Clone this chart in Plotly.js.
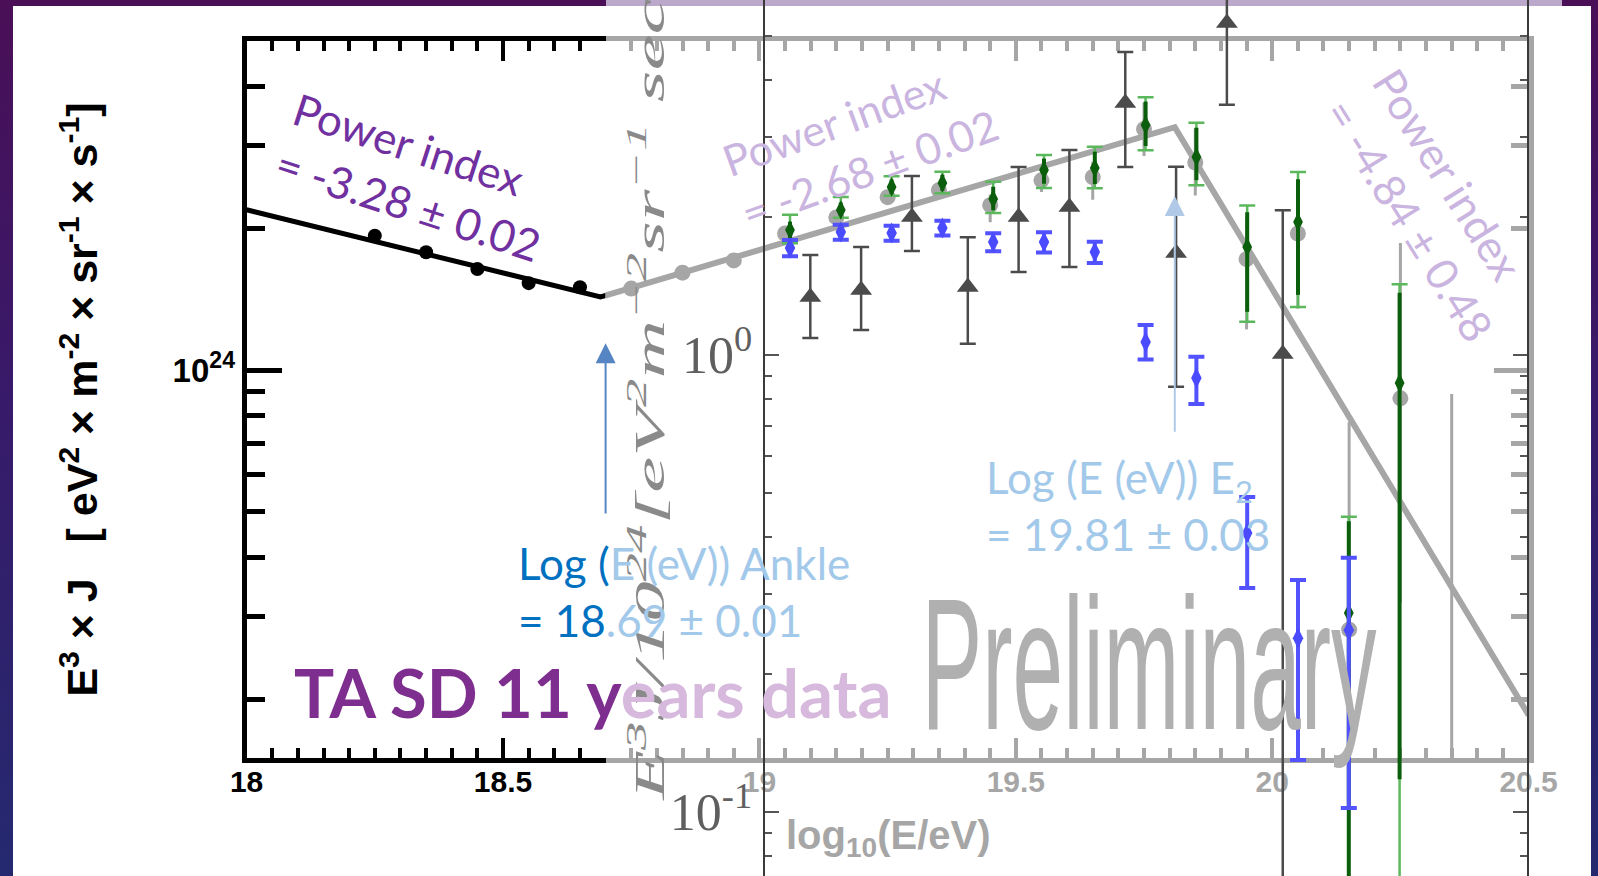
<!DOCTYPE html>
<html><head><meta charset="utf-8">
<script src="https://cdn.plot.ly/plotly-3.0.1.min.js"></script>
<style>
html,body{margin:0;padding:0;width:1598px;height:876px;overflow:hidden;
background:linear-gradient(180deg,#4a0f57 0%,#381a6a 45%,#24296f 100%);}
#chart{width:1598px;height:876px;}
</style></head><body><div id="chart"></div>
<script>
// ---------------- data ----------------
// TA SD 11-year spectrum, E^3 J in eV^2 m^-2 sr^-1 s^-1
const sdX = [18.25,18.35,18.45,18.55,18.65,18.75,18.85,18.95,19.05,19.15,19.25,19.35,19.45,19.55,19.65,19.75,19.85,19.95,20.05,20.15,20.25,20.35];
const sdY = [1.93e24,1.78e24,1.64e24,1.53e24,1.50e24,1.49e24,1.61e24,1.71e24,1.95e24,2.11e24,2.33e24,2.41e24,2.24e24,2.53e24,2.57e24,3.25e24,2.76e24,1.72e24,1.95e24,0.281e24,0.871e24,0.10e24];
const sdErrPlus  = [0.01e24,0.01e24,0.01e24,0.01e24,0.01e24,0.01e24,0.02e24,0.02e24,0.06e24,0.07e24,0.08e24,0.10e24,0.12e24,0.14e24,0.20e24,0.45e24,0.50e24,0.40e24,0.55e24,0.495e24,0.99e24,0.79e24];
const sdErrMinus = [0.01e24,0.01e24,0.01e24,0.01e24,0.01e24,0.01e24,0.02e24,0.02e24,0.06e24,0.07e24,0.08e24,0.10e24,0.18e24,0.14e24,0.27e24,0.40e24,0.41e24,0.50e24,0.60e24,0.25e24,0.55e24,0.05e24];

// broken power-law fit
const fitX = [18.0, 18.69, 19.81, 20.5];
const fitY = [2.19e24, 1.43e24, 3.28e24, 0.185e24];

// break markers (arrows): log10(E) and arrow tip/tail in log10(E^3 J)
const arrowX    = [18.70, 19.81];
const arrowTip  = [24.057, 24.370];
const arrowTail = [23.692, 23.866];

// background figure (TA, E^3 J / 10^24)
const triX = [19.09,19.19,19.29,19.40,19.50,19.60,19.71,19.81,19.91,20.02];
const triY = [1.339,1.387,2.004,1.409,2.004,2.108,3.560,1.672,5.33,1.005];
const triPlus  = [0.316,0.336,0.46,0.40,0.575,0.70,1.04,0.91,3.0,1.07];
const triMinus = [0.25,0.253,0.315,0.35,0.485,0.55,0.98,0.82,1.8,0.95];

const greenX = [19.05,19.15,19.25,19.35,19.45,19.55,19.65,19.75,19.85,19.95,20.05,20.15,20.25];
const greenY = [1.877,2.076,2.332,2.379,2.194,2.540,2.566,3.186,2.713,1.723,1.954,0.2725,0.868];
const greenOuterPlus  = [0.15,0.14,0.13,0.14,0.20,0.20,0.29,0.48,0.51,0.40,0.56,0.17,0.56];
const greenOuterMinus = [0.12,0.08,0.10,0.12,0.15,0.22,0.25,0.38,0.36,0.54,0.68,0.25,0.80];
const greenInnerPlus  = [0.08,0.08,0.09,0.10,0.14,0.15,0.22,0.40,0.43,0.33,0.47,0.16,0.50];
const greenInnerMinus = [0.08,0.06,0.08,0.09,0.12,0.17,0.20,0.32,0.30,0.48,0.60,0.24,0.75];

const blueX = [19.05,19.15,19.25,19.35,19.45,19.55,19.65,19.75,19.85,19.95,20.05,20.15];
const blueY = [1.715,1.858,1.849,1.896,1.767,1.767,1.680,1.068,0.891,0.408,0.240,0.250];
const bluePlus  = [0.07,0.07,0.07,0.07,0.08,0.09,0.09,0.095,0.10,0.081,0.082,0.11];
const blueMinus = [0.07,0.07,0.07,0.07,0.08,0.09,0.09,0.09,0.11,0.099,0.11,0.148];

const yMajorVals = [1e24];
const yMajorText = ['10<sup>24</sup>'];
const yMinorVals = [2e23,3e23,4e23,5e23,6e23,7e23,8e23,9e23,2e24,3e24,4e24];
const taMajorVals = [0.1, 1];
const taMajorText = ['10<sup>-1</sup>','10<sup>0</sup>'];
const taMinorVals = [0.08,0.09,0.2,0.3,0.4,0.5,0.6,0.7,0.8,0.9,2,3,4,5];

// ---------------- layout helpers ----------------
const W = 1598, H = 876;
const px = v => v / W;
const py = v => 1 - v / H;

const BLACK = '#000000', FADE = '#a6a6a6';
const tickFontBlack = {family:'Liberation Sans, Arial, sans-serif', size:30, color:BLACK, weight:'bold'};
const tickFontGray  = {family:'Liberation Sans, Arial, sans-serif', size:30, color:FADE, weight:'bold'};

const xLeftDom  = [px(246.6), px(605.6)];
const xRightDom = [px(605.6), px(1528.6)];
const yMainDom  = [py(758), py(41)];
const yRange    = [Math.log10(1.5e23), Math.log10(5e24)];

const data = [
  // left (original, opaque) part of the slide chart
  {x: fitX, y: fitY, xaxis:'x', yaxis:'y', mode:'lines', line:{color:BLACK, width:5}, hoverinfo:'skip', showlegend:false},
  {x: sdX, y: sdY, xaxis:'x', yaxis:'y', mode:'markers', marker:{color:BLACK, size:14},
   error_y:{type:'data', symmetric:false, array:sdErrPlus, arrayminus:sdErrMinus, color:BLACK, thickness:2, width:0}, showlegend:false},
  // right part, seen through the overlaid figure (faded)
  {x: fitX, y: fitY, xaxis:'x2', yaxis:'y2', mode:'lines', line:{color:FADE, width:6}, hoverinfo:'skip', showlegend:false},
  {x: sdX, y: sdY, xaxis:'x2', yaxis:'y2', mode:'markers', marker:{color:FADE, size:16},
   error_y:{type:'data', symmetric:false, array:sdErrPlus, arrayminus:sdErrMinus, color:FADE, thickness:3, width:0}, showlegend:false},
  // overlaid TA figure
  {x: triX, y: triY, xaxis:'x3', yaxis:'y3', mode:'markers', marker:{symbol:'triangle-up', color:'#4b4b4b', size:19},
   error_y:{type:'data', symmetric:false, array:triPlus, arrayminus:triMinus, color:'#4b4b4b', thickness:2.5, width:8}, showlegend:false},
  {x: greenX, y: greenY, xaxis:'x3', yaxis:'y3', mode:'markers', marker:{color:'rgba(0,0,0,0)', size:2},
   error_y:{type:'data', symmetric:false, array:greenOuterPlus, arrayminus:greenOuterMinus, color:'#5cb85c', thickness:2.5, width:8}, showlegend:false},
  {x: greenX, y: greenY, xaxis:'x3', yaxis:'y3', mode:'markers', marker:{symbol:'diamond-tall', color:'#0b5e0b', size:14},
   error_y:{type:'data', symmetric:false, array:greenInnerPlus, arrayminus:greenInnerMinus, color:'#0b5e0b', thickness:4, width:0}, showlegend:false},
  {x: blueX, y: blueY, xaxis:'x3', yaxis:'y3', mode:'markers', marker:{symbol:'diamond-tall', color:'#4a4aff', size:15},
   error_y:{type:'data', symmetric:false, array:bluePlus, arrayminus:blueMinus, color:'#5252ff', thickness:4, width:8}, showlegend:false}
];

const slideFont = 'Lato, Carlito, Calibri, "Open Sans", sans-serif';

const annotations = [
  // 0: x-axis title (spans the whole main axis)
  {xref:'paper', yref:'paper', x:px(888), y:py(838), xanchor:'center', yanchor:'middle', showarrow:false,
   text:'log<sub>10</sub>(E/eV)', font:{family:'Liberation Sans, Arial, sans-serif', size:40, color:FADE, weight:'bold'}},
  // 1: TA figure y title (stretched later)
  {xref:'paper', yref:'paper', x:px(646), y:py(350), xanchor:'center', yanchor:'middle', showarrow:false, textangle:-90,
   text:'E<sup>3</sup>J/10<sup>24</sup>[eV<sup>2</sup>m<sup>−2</sup>sr<sup>−1</sup> sec<sup>−1</sup>]',
   font:{family:'Liberation Serif, Times New Roman, serif', size:42, color:'#8a8a8a', style:'italic'}},
  // 2: Preliminary (stretched later)
  {xref:'paper', yref:'paper', x:px(1149), y:py(664), xanchor:'center', yanchor:'middle', showarrow:false,
   text:'Preliminary', font:{family:'Liberation Sans, Arial, sans-serif', size:188, color:'#b0b0b0'}},
  // 3: TA SD 11 years data
  {xref:'paper', yref:'paper', x:px(292), y:py(692), xanchor:'left', yanchor:'middle', showarrow:false,
   text:'<b><span style="color:#7e2e8e">TA SD 11 y</span><span style="color:#d6b9dc">ears data</span></b>',
   font:{family:slideFont, size:67, color:'#7e2e8e'}},
  // 4: ankle
  {xref:'paper', yref:'paper', x:px(516), y:py(591), xanchor:'left', yanchor:'middle', showarrow:false, align:'left',
   text:'<span style="color:#0070c0">Log (</span><span style="color:#a3c9ea">E (eV)) Ankle</span><br><span style="color:#0070c0">= 18</span><span style="color:#a3c9ea">.69 ± 0.01</span>',
   font:{family:slideFont, size:44, color:'#0070c0'}},
  // 5: E2
  {xref:'paper', yref:'paper', x:px(984), y:py(505), xanchor:'left', yanchor:'middle', showarrow:false, align:'left',
   text:'Log (E (eV)) E<sub>2</sub><br>= 19.81 ± 0.03', font:{family:slideFont, size:44, color:'#a3c9ea'}},
  // 6-8: power indices
  {xref:'paper', yref:'paper', x:px(417), y:py(176), xanchor:'center', yanchor:'middle', showarrow:false, align:'left', textangle:18,
   text:'Power index<br>= -3.28 ± 0.02', font:{family:slideFont, size:44, color:'#7030a0'}},
  {xref:'paper', yref:'paper', x:px(860), y:py(143), xanchor:'center', yanchor:'middle', showarrow:false, align:'left', textangle:-20,
   text:'Power index<br>= -2.68 ± 0.02', font:{family:slideFont, size:43, color:'#cab4e0'}},
  {xref:'paper', yref:'paper', x:px(1434), y:py(204), xanchor:'center', yanchor:'middle', showarrow:false, align:'left', textangle:58,
   text:'Power index<br>= -4.84 ± 0.48', font:{family:slideFont, size:44, color:'#cab4e0'}},
  // 9-10: arrows at the breaks
  {xref:'x', yref:'y', axref:'x', ayref:'y', x:arrowX[0], y:arrowTip[0], ax:arrowX[0], ay:arrowTail[0], text:'',
   showarrow:true, arrowhead:2, arrowsize:2.0, arrowwidth:2, arrowcolor:'#5685c4', standoff:0},
  {xref:'x2', yref:'y2', axref:'x2', ayref:'y2', x:arrowX[1], y:arrowTip[1], ax:arrowX[1], ay:arrowTail[1], text:'',
   showarrow:true, arrowhead:2, arrowsize:2.0, arrowwidth:2, arrowcolor:'#b0c9e6', standoff:0}
];

const layout = {
  width: W, height: H,
  margin: {l:0, r:0, t:0, b:0, pad:0},
  paper_bgcolor: 'rgba(0,0,0,0)',
  plot_bgcolor: 'rgba(0,0,0,0)',
  showlegend: false,
  xaxis: {domain:xLeftDom, range:[18, 18.7], anchor:'y', showline:true, linecolor:BLACK, linewidth:5, mirror:'ticks',
          ticks:'inside', tick0:18, dtick:0.5, ticklen:20, tickwidth:4, tickcolor:BLACK, tickfont:tickFontBlack, ticklabelstandoff:-7,
          minor:{tick0:18, dtick:0.05, ticks:'inside', ticklen:10, tickwidth:4, tickcolor:BLACK},
          showgrid:false, zeroline:false},
  xaxis2: {domain:xRightDom, range:[18.7, 20.5], anchor:'y2', showline:true, linecolor:FADE, linewidth:5, mirror:'ticks',
          ticks:'inside', tick0:18, dtick:0.5, ticklen:20, tickwidth:4, tickcolor:FADE, tickfont:tickFontGray, ticklabelstandoff:-7,
          minor:{tick0:18, dtick:0.05, ticks:'inside', ticklen:10, tickwidth:4, tickcolor:FADE},
          showgrid:false, zeroline:false},
  yaxis: {domain:yMainDom, type:'log', range:yRange, anchor:'x', side:'left', showline:true, linecolor:BLACK, linewidth:5,
          ticks:'inside', tickmode:'array', tickvals:yMajorVals, ticktext:yMajorText, ticklen:35, tickwidth:5, tickcolor:BLACK,
          tickfont:{family:'Liberation Sans, Arial, sans-serif', size:33, color:BLACK, weight:'bold'},
          minor:{tickmode:'array', tickvals:yMinorVals, ticks:'inside', ticklen:18, tickwidth:5, tickcolor:BLACK},
          showgrid:false, zeroline:false,
          title:{text:'E<sup>3</sup> × J   [ eV<sup>2</sup> × m<sup>-2</sup> × sr<sup>-1</sup> × s<sup>-1</sup>]',
                 standoff:63, font:{family:'Liberation Sans, Arial, sans-serif', size:43, color:BLACK, weight:'bold'}}},
  yaxis2: {domain:yMainDom, type:'log', range:yRange, anchor:'x2', side:'right', showline:true, linecolor:FADE, linewidth:5,
          ticks:'inside', tickmode:'array', tickvals:yMajorVals, ticktext:yMajorText, ticklen:35, tickwidth:5, tickcolor:FADE,
          showticklabels:false,
          minor:{tickmode:'array', tickvals:yMinorVals, ticks:'inside', ticklen:18, tickwidth:5, tickcolor:FADE},
          showgrid:false, zeroline:false},
  xaxis3: {domain:[px(764.6), px(1526.6)], range:[19, 20.5], anchor:'y3', visible:false, showgrid:false, zeroline:false},
  yaxis3: {domain:[0, 1], type:'log', range:[-1.14, 0.7768], anchor:'x3', showline:true, linecolor:'#3a3a3a', linewidth:2,
          mirror:'ticks', ticks:'inside', tickmode:'array', tickvals:taMajorVals, ticktext:taMajorText, ticklen:14, tickwidth:2,
          tickcolor:'#555555', tickfont:{family:'Liberation Serif, Times New Roman, serif', size:52, color:'#5f5f5f'},
          minor:{tickmode:'array', tickvals:taMinorVals, ticks:'inside', ticklen:7, tickwidth:2, tickcolor:'#555555'},
          showgrid:false, zeroline:false},
  shapes: [
    {type:'rect', xref:'paper', yref:'paper', x0:px(13), x1:px(1591), y0:0, y1:py(6), fillcolor:'#ffffff', line:{width:0}, layer:'below'},
    {type:'rect', xref:'paper', yref:'paper', x0:px(606), x1:px(1562), y0:py(6), y1:1, fillcolor:'#bca8cb', line:{width:0}, layer:'below'}
  ],
  annotations: annotations
};

function stretch(i, len) {
  const t = document.querySelector('.annotation[data-index="' + i + '"] text.annotation-text');
  if (t) { t.setAttribute('textLength', len); t.setAttribute('lengthAdjust', 'spacingAndGlyphs'); }
}

Plotly.newPlot('chart', data, layout, {staticPlot:true, displayModeBar:false}).then(function () {
  stretch(1, 900);
  stretch(2, 455);
});
</script></body></html>
